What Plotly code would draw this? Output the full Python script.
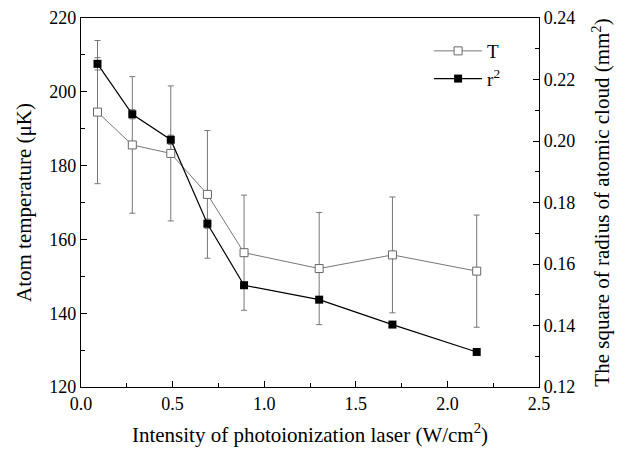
import plotly.graph_objects as go

intensity = [0.09, 0.28, 0.49, 0.69, 0.89, 1.30, 1.70, 2.16]
temp_T = [194.5, 185.6, 183.3, 172.2, 156.4, 152.1, 155.8, 151.4]
temp_err = [19.4, 18.5, 18.3, 17.3, 15.6, 15.2, 15.7, 15.2]
r2 = [0.2251, 0.2087, 0.2004, 0.1731, 0.1531, 0.1484, 0.1403, 0.1314]
r2_err = [0.0020, 0.0015, 0.0015, 0.0015, 0.0, 0.0, 0.0, 0.0]

FONT = "Liberation Serif, Times New Roman, serif"

fig = go.Figure()
fig.add_trace(go.Scatter(
    x=intensity, y=temp_T, name="T", mode="lines+markers",
    line=dict(color="#777777", width=1),
    marker=dict(symbol="square", size=8, color="white", line=dict(color="#666666", width=1)),
    error_y=dict(type="data", array=temp_err, visible=True, color="#777777", thickness=1, width=3),
))
fig.add_trace(go.Scatter(
    x=intensity, y=r2, name="r<sup>2</sup>", mode="lines+markers", yaxis="y2",
    line=dict(color="black", width=1.2),
    marker=dict(symbol="square", size=8, color="black", line=dict(color="black", width=0)),
    error_y=dict(type="data", array=r2_err, visible=True, color="#777777", thickness=1, width=3),
))

axis_common = dict(
    showline=True, linecolor="black", linewidth=1.2, ticks="inside", ticklen=6,
    tickcolor="black", showgrid=False, zeroline=False, automargin=False,
    ticklabeloverflow="allow",
    tickfont=dict(family=FONT, size=18, color="black"),
)

fig.update_layout(
    width=610, height=439,
    margin=dict(l=73, r=79, t=10, b=60),
    paper_bgcolor="white", plot_bgcolor="white",
    font=dict(family=FONT, size=18, color="black"),
    showlegend=True,
    legend=dict(x=0.76, y=0.962, xanchor="left", yanchor="top", bgcolor="rgba(0,0,0,0)",
                font=dict(family=FONT, size=19), tracegroupgap=0, itemwidth=48),
    xaxis=dict(
        range=[0, 2.5], dtick=0.5, tickformat=".1f", mirror=True,
        minor=dict(ticks="inside", ticklen=4, dtick=0.25, tickcolor="black"),
        title=dict(text="Intensity of photoionization laser (W/cm<sup>2</sup>)", font=dict(family=FONT, size=21), standoff=17),
        **axis_common,
    ),
    yaxis=dict(
        range=[120, 220], dtick=20,
        minor=dict(ticks="inside", ticklen=4, dtick=10, tickcolor="black"),
        title=dict(text="Atom temperature (μK)", font=dict(family=FONT, size=21), standoff=11),
        **axis_common,
    ),
    yaxis2=dict(
        range=[0.12, 0.24], dtick=0.02, tickformat=".2f", overlaying="y", side="right",
        minor=dict(ticks="inside", ticklen=4, dtick=0.01, tickcolor="black"),
        title=dict(text="The square of radius of atomic cloud (mm<sup>2</sup>)", font=dict(family=FONT, size=21), standoff=20),
        **axis_common,
    ),
)

fig.write_html("out.html")
